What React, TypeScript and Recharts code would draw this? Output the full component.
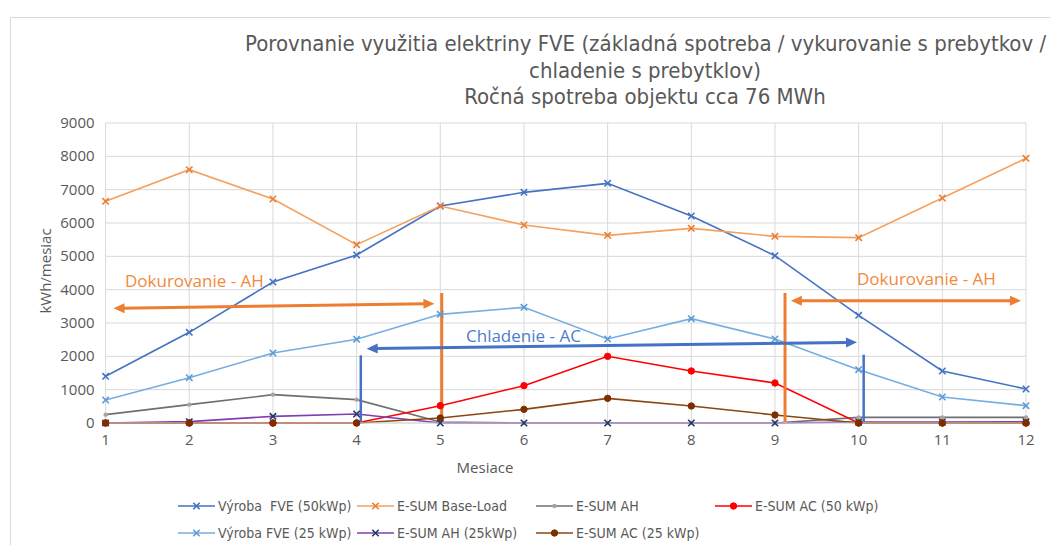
import React from 'react';
import {
  CartesianGrid,
  Line,
  LineChart,
  ReferenceLine,
  XAxis,
  YAxis,
} from 'recharts';

// mesiace 1..12, hodnoty v kWh/mesiac odčítané z grafu
const MONTHS = [1, 2, 3, 4, 5, 6, 7, 8, 9, 10, 11, 12];
const VYROBA_50 = [1400, 2720, 4230, 5040, 6510, 6920, 7190, 6210, 5020, 3230, 1560, 1020];
const BASE_LOAD = [6650, 7600, 6720, 5350, 6510, 5940, 5630, 5840, 5600, 5560, 6750, 7940];
const AH_50 = [250, 550, 850, 700, 30, 0, 0, 0, 0, 170, 170, 170];
const AC_50 = [0, 0, 0, 0, 520, 1120, 2000, 1560, 1200, 0, 0, 0];
const VYROBA_25 = [690, 1360, 2100, 2510, 3260, 3470, 2520, 3130, 2520, 1600, 780, 520];
const AH_25 = [0, 40, 200, 270, 0, 0, 0, 0, 0, 30, 30, 40];
const AC_25 = [0, 0, 0, 0, 150, 410, 740, 510, 240, 0, 0, 0];
const Y_TICKS = [0, 1000, 2000, 3000, 4000, 5000, 6000, 7000, 8000, 9000];

const TITLE = [
  'Porovnanie využitia elektriny FVE (základná spotreba / vykurovanie s prebytkov /',
  'chladenie s prebytklov)',
  'Ročná spotreba objektu cca 76 MWh',
];

const data = MONTHS.map((m, i) => ({
  m,
  v50: VYROBA_50[i],
  base: BASE_LOAD[i],
  ah: AH_50[i],
  ac50: AC_50[i],
  v25: VYROBA_25[i],
  ah25: AH_25[i],
  ac25: AC_25[i],
}));

// šípky a zvislé čiary (v jednotkách grafu: mesiac, kWh)
const ORANGE = '#ED7D31';
const BLUE = '#4472C4';
const ANNOTATIONS = [
  { from: [1.095, 3440], to: [4.93, 3580], color: ORANGE, arrow: true, w: 3 },
  { from: [5.017, 0], to: [5.017, 3900], color: ORANGE, arrow: false, w: 3 },
  { from: [9.12, 0], to: [9.12, 3900], color: ORANGE, arrow: false, w: 3 },
  { from: [9.19, 3670], to: [11.94, 3670], color: ORANGE, arrow: true, w: 3 },
  { from: [4.12, 2230], to: [9.98, 2420], color: BLUE, arrow: true, w: 3 },
  { from: [4.05, 0], to: [4.05, 2030], color: BLUE, arrow: false, w: 2.5 },
  { from: [10.06, 0], to: [10.06, 2050], color: BLUE, arrow: false, w: 2.5 },
];

type Sym = 'x' | 'circle' | 'dot' | 'none';
const SERIES: { key: string; name: string; color: string; mark: Sym; markColor: string }[] = [
  { key: 'v50', name: 'Výroba  FVE (50kWp)', color: '#4472C4', mark: 'x', markColor: '#4472C4' },
  { key: 'base', name: 'E-SUM Base-Load', color: '#F5A05E', mark: 'x', markColor: '#ED7D31' },
  { key: 'ah', name: 'E-SUM AH', color: '#6F6F6F', mark: 'dot', markColor: '#A5A5A5' },
  { key: 'ac50', name: 'E-SUM AC (50 kWp)', color: '#FF0000', mark: 'circle', markColor: '#FF0000' },
  { key: 'v25', name: 'Výroba FVE (25 kWp)', color: '#75AEE0', mark: 'x', markColor: '#5B9BD5' },
  { key: 'ah25', name: 'E-SUM AH (25kWp)', color: '#7E3FB0', mark: 'x', markColor: '#203864' },
  { key: 'ac25', name: 'E-SUM AC (25 kWp)', color: '#8B4513', mark: 'circle', markColor: '#7B2E00' },
];

const LEGEND_ROWS = [
  ['v50', 'base', 'ah', 'ac50'],
  ['v25', 'ah25', 'ac25'],
];

function Marker({ cx, cy, mark, color }: { cx: number; cy: number; mark: Sym; color: string }) {
  if (mark === 'x') {
    const s = 3.2;
    return (
      <path
        d={`M${cx - s},${cy - s}L${cx + s},${cy + s}M${cx - s},${cy + s}L${cx + s},${cy - s}`}
        stroke={color}
        strokeWidth={1.6}
        fill="none"
      />
    );
  }
  if (mark === 'circle') return <circle cx={cx} cy={cy} r={3.2} fill={color} stroke={color} />;
  if (mark === 'dot') return <circle cx={cx} cy={cy} r={2.2} fill={color} stroke="none" />;
  return null;
}

function arrowShape(arrow: boolean) {
  return (p: any) => {
    const { x1, y1, x2, y2, stroke, strokeWidth } = p;
    const ang = Math.atan2(y2 - y1, x2 - x1);
    const heads = [];
    if (arrow) {
      const L = 11;
      const H = 5;
      for (const [tx, ty, a] of [
        [x2, y2, ang],
        [x1, y1, ang + Math.PI],
      ] as [number, number, number][]) {
        const bx = tx - L * Math.cos(a);
        const by = ty - L * Math.sin(a);
        const nx = -Math.sin(a) * H;
        const ny = Math.cos(a) * H;
        heads.push(
          <polygon
            key={`${tx}-${ty}`}
            points={`${tx},${ty} ${bx + nx},${by + ny} ${bx - nx},${by - ny}`}
            fill={stroke}
          />
        );
      }
    }
    const cut = arrow ? 8 : 0;
    return (
      <g>
        <line
          x1={x1 + cut * Math.cos(ang)}
          y1={y1 + cut * Math.sin(ang)}
          x2={x2 - cut * Math.cos(ang)}
          y2={y2 - cut * Math.sin(ang)}
          stroke={stroke}
          strokeWidth={strokeWidth}
        />
        {heads}
      </g>
    );
  };
}

const GREY_TEXT = '#595959';
const SANS = '"Open Sans", "Noto Sans", sans-serif';
const NARROW = '"Liberation Sans Narrow", "DejaVu Sans Condensed", sans-serif';

function YTick(p: any) {
  return (
    <text x={p.x} y={p.y} dy={5} textAnchor="end" fill={GREY_TEXT} fontSize={15} fontFamily={SANS}>
      {p.payload.value}
    </text>
  );
}

function XTick(p: any) {
  return (
    <text x={p.x} y={p.y} dy={13} textAnchor="middle" fill={GREY_TEXT} fontSize={15} fontFamily={SANS}>
      {p.payload.value}
    </text>
  );
}

export default function App() {
  return (
    <div
      style={{
        position: 'absolute',
        left: 0,
        top: 0,
        width: 1050,
        height: 545,
        background: '#fff',
        overflow: 'hidden',
        fontFamily: SANS,
      }}
    >
      {/* rám */}
      <div
        style={{
          position: 'absolute',
          left: 10,
          top: 17,
          width: 1060,
          height: 560,
          borderLeft: '1px solid #d9d9d9',
          borderTop: '1px solid #d9d9d9',
        }}
      />

      <div
        style={{
          position: 'absolute',
          left: 245,
          width: 800,
          top: 31,
          textAlign: 'center',
          color: GREY_TEXT,
          fontFamily: NARROW,
          fontSize: 22,
          lineHeight: '26.5px',
        }}
      >
        {TITLE.map((t) => (
          <div key={t} style={{ whiteSpace: 'nowrap' }}>
            {t}
          </div>
        ))}
      </div>

      <div style={{ position: 'absolute', left: 0, top: 0 }}>
        <LineChart width={1050} height={545} data={data} margin={{ top: 123, right: 24, bottom: 92, left: 45.6 }}>
          <CartesianGrid stroke="#d9d9d9" />
          <XAxis
            dataKey="m"
            type="number"
            domain={[1, 12]}
            ticks={MONTHS}
            height={30}
            axisLine={{ stroke: '#d9d9d9' }}
            tickLine={false}
            tickMargin={3}
            tick={<XTick />}
          />
          <YAxis
            type="number"
            domain={[0, 9000]}
            ticks={Y_TICKS}
            width={60}
            axisLine={false}
            tickLine={false}
            tickMargin={5}
            tick={<YTick />}
          />
          {SERIES.map((s) => (
            <Line
              key={s.key}
              dataKey={s.key}
              type="linear"
              stroke={s.color}
              strokeWidth={1.6}
              isAnimationActive={false}
              dot={(p: any) => (
                <Marker key={`${s.key}-${p.index}`} cx={p.cx} cy={p.cy} mark={s.mark} color={s.markColor} />
              )}
              activeDot={false}
            />
          ))}
          {ANNOTATIONS.map((a, i) => (
            <ReferenceLine
              key={i}
              segment={[
                { x: a.from[0], y: a.from[1] },
                { x: a.to[0], y: a.to[1] },
              ]}
              stroke={a.color}
              strokeWidth={a.w}
              ifOverflow="visible"
              shape={arrowShape(a.arrow)}
            />
          ))}
        </LineChart>
      </div>

      {/* popisy oblastí */}
      <div style={{ position: 'absolute', left: 125, top: 269, color: '#F08A3E', fontSize: 17, whiteSpace: 'nowrap' }}>
        Dokurovanie - AH
      </div>
      <div style={{ position: 'absolute', left: 857, top: 267, color: '#F08A3E', fontSize: 17, whiteSpace: 'nowrap' }}>
        Dokurovanie - AH
      </div>
      <div style={{ position: 'absolute', left: 466, top: 324, color: '#4F7CCB', fontSize: 17, whiteSpace: 'nowrap' }}>
        Chladenie - AC
      </div>

      {/* osi */}
      <div
        style={{
          position: 'absolute',
          left: 45,
          top: 271,
          transform: 'translate(-50%, -50%) rotate(-90deg)',
          color: GREY_TEXT,
          fontSize: 15,
          whiteSpace: 'nowrap',
        }}
      >
        kWh/mesiac
      </div>
      <div
        style={{
          position: 'absolute',
          left: 485,
          top: 467,
          transform: 'translate(-50%, -50%)',
          color: GREY_TEXT,
          fontSize: 15,
        }}
      >
        Mesiace
      </div>

      {/* legenda */}
      {LEGEND_ROWS.map((row, r) =>
        row.map((k, c) => {
          const s = SERIES.find((x) => x.key === k)!;
          return (
            <div
              key={k}
              style={{
                position: 'absolute',
                left: 178 + c * 179,
                top: 497 + r * 27,
                height: 18,
                display: 'flex',
                alignItems: 'center',
                whiteSpace: 'nowrap',
                color: GREY_TEXT,
                fontFamily: NARROW,
                fontSize: 14,
              }}
            >
              <svg width={37} height={12} style={{ marginRight: 3 }}>
                <line x1={0} y1={6} x2={37} y2={6} stroke={s.color} strokeWidth={1.6} />
                <Marker cx={18.5} cy={6} mark={s.mark} color={s.markColor} />
              </svg>
              <span style={{ whiteSpace: 'pre' }}>{s.name}</span>
            </div>
          );
        })
      )}
    </div>
  );
}
